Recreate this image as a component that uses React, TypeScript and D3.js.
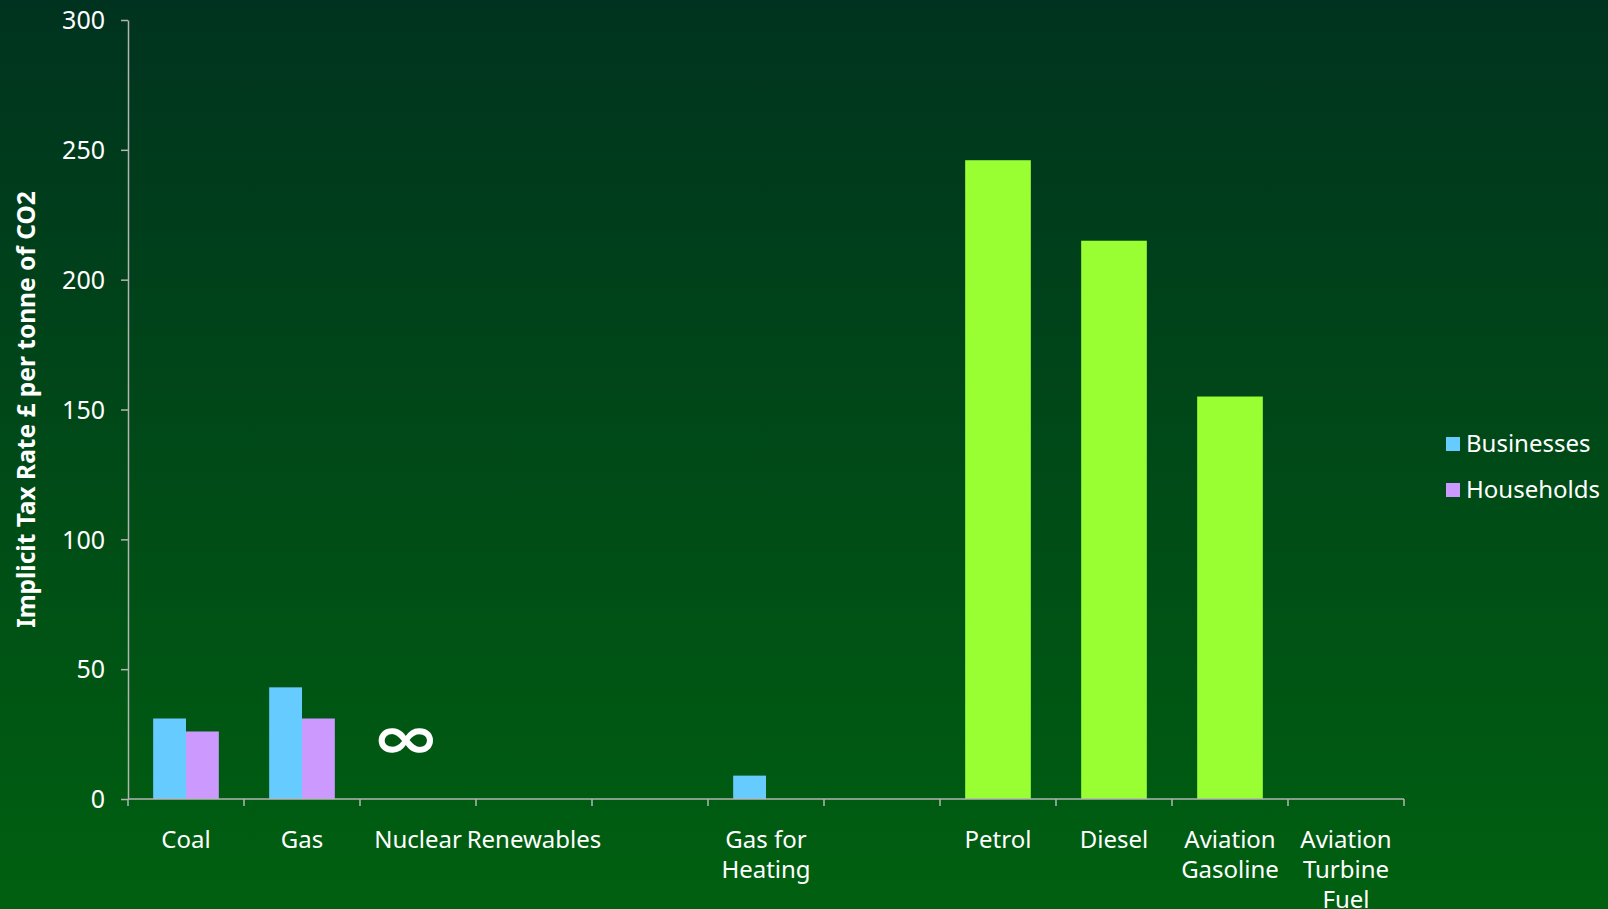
import React, { useEffect, useRef } from "react";
import * as d3 from "d3";

const categories = [
  "Coal", "Gas", "Nuclear", "Renewables", "", "Gas for Heating", " ",
  "Petrol", "Diesel", "Aviation Gasoline", "Aviation Turbine Fuel",
];
const categoryLines: string[][] = [
  ["Coal"], ["Gas"], ["Nuclear"], ["Renewables"], [], ["Gas for", "Heating"], [],
  ["Petrol"], ["Diesel"], ["Aviation", "Gasoline"], ["Aviation", "Turbine", "Fuel"],
];
const businesses = [31, 43, 0, 0, 0, 9, 0, 0, 0, 0, 0];
const households = [26, 31, 0, 0, 0, 0, 0, 0, 0, 0, 0];
const transport = [0, 0, 0, 0, 0, 0, 0, 246, 215, 155, 0];
const yTicks = [0, 50, 100, 150, 200, 250, 300];
const seriesNames = ["Businesses", "Households"];
const seriesColors = ["#66ccff", "#cc99ff"];
const transportColor = "#99ff33";
const infinityCategory = "Nuclear";
const infinityValue = 22;

const W = 1608, H = 909;
const M = { left: 128, right: 1404, top: 20, bottom: 799 };
const FONT = "'Noto Sans', 'Open Sans', sans-serif";

export default function App() {
  const ref = useRef<SVGSVGElement>(null);
  useEffect(() => {
    document.body.style.margin = "0";
    const svg = d3.select(ref.current);
    svg.selectAll("*").remove();

    const defs = svg.append("defs");
    const grad = defs.append("linearGradient").attr("id", "bg").attr("x1", 0).attr("y1", 0).attr("x2", 0).attr("y2", 1);
    grad.append("stop").attr("offset", "0%").attr("stop-color", "#00331f");
    grad.append("stop").attr("offset", "100%").attr("stop-color", "#006010");
    svg.append("rect").attr("width", W).attr("height", H).attr("fill", "url(#bg)");

    const x = d3.scaleBand<string>().domain(categories).range([M.left, M.right]).paddingInner(0).paddingOuter(0);
    const y = d3.scaleLinear().domain([0, 300]).range([M.bottom, M.top]);
    const bw = x.bandwidth();
    const barW = bw * 0.283;

    const g = svg.append("g");
    const seriesData = [businesses, households];
    seriesData.forEach((vals, si) => {
      g.selectAll(null).data(vals.map((v, i) => ({ v, c: categories[i] })).filter(d => d.v > 0))
        .enter().append("rect")
        .attr("x", d => (x(d.c) as number) + bw / 2 - barW + si * barW)
        .attr("y", d => y(d.v))
        .attr("width", barW)
        .attr("height", d => y(0) - y(d.v))
        .attr("fill", seriesColors[si]);
    });
    g.selectAll(null).data(transport.map((v, i) => ({ v, c: categories[i] })).filter(d => d.v > 0))
      .enter().append("rect")
      .attr("x", d => (x(d.c) as number) + bw / 2 - barW)
      .attr("y", d => y(d.v))
      .attr("width", barW * 2)
      .attr("height", d => y(0) - y(d.v))
      .attr("fill", transportColor);

    // infinity symbol
    const ix = (x(infinityCategory) as number) + bw / 2 - 12;
    const iy = y(infinityValue) + 16;
    svg.append("text")
      .attr("transform", `translate(${ix},${iy}) scale(1.35,0.95)`)
      .attr("text-anchor", "middle")
      .attr("font-family", "'DejaVu Sans', sans-serif")
      .attr("font-weight", "bold")
      .attr("font-size", 62)
      .attr("fill", "#ffffff")
      .text("∞");

    const axisColor = "#b4b4b4";
    const ya = svg.append("g").attr("transform", `translate(${M.left},0)`)
      .call(d3.axisLeft(y).tickValues(yTicks).tickSize(7).tickSizeOuter(0).tickPadding(16));
    ya.select(".domain").attr("stroke", axisColor).attr("stroke-width", 1.5);
    ya.selectAll(".tick line").attr("stroke", axisColor).attr("stroke-width", 1.5);
    ya.selectAll(".tick text").attr("fill", "#ffffff").attr("font-size", 25).attr("font-family", FONT).attr("dy", "0.35em");

    const xa = svg.append("g").attr("transform", `translate(0,${M.bottom})`);
    xa.append("line").attr("x1", M.left).attr("x2", M.right).attr("y1", 0).attr("y2", 0)
      .attr("stroke", axisColor).attr("stroke-width", 1.5);
    const boundaries = categories.map(c => x(c) as number).concat([M.right]);
    xa.selectAll(null).data(boundaries).enter().append("line")
      .attr("x1", d => d).attr("x2", d => d).attr("y1", 0).attr("y2", 7)
      .attr("stroke", axisColor).attr("stroke-width", 1.5);
    categories.forEach((c, i) => {
      const t = xa.append("text")
        .attr("x", (x(c) as number) + bw / 2)
        .attr("y", 49)
        .attr("text-anchor", "middle")
        .attr("fill", "#ffffff")
        .attr("font-size", 24)
        .attr("font-family", FONT);
      categoryLines[i].forEach((ln, li) => {
        t.append("tspan").attr("x", (x(c) as number) + bw / 2).attr("dy", li === 0 ? 0 : 30).text(ln);
      });
    });

    svg.append("text")
      .attr("transform", `translate(35,${(M.top + M.bottom) / 2}) rotate(-90)`)
      .attr("text-anchor", "middle")
      .attr("fill", "#ffffff")
      .attr("font-size", 24.5)
      .attr("font-weight", "bold")
      .attr("font-family", FONT)
      .text("Implicit Tax Rate £ per tonne of CO2");

    const lg = svg.append("g").attr("transform", "translate(1446,437)");
    seriesNames.forEach((n, i) => {
      lg.append("rect").attr("x", 0).attr("y", i * 46).attr("width", 14).attr("height", 14).attr("fill", seriesColors[i]);
      lg.append("text").attr("x", 20).attr("y", i * 46 + 15).attr("fill", "#ffffff")
        .attr("font-size", 24).attr("font-family", FONT).text(n);
    });
  }, []);
  return <svg ref={ref} width={W} height={H} style={{ display: "block" }} />;
}
